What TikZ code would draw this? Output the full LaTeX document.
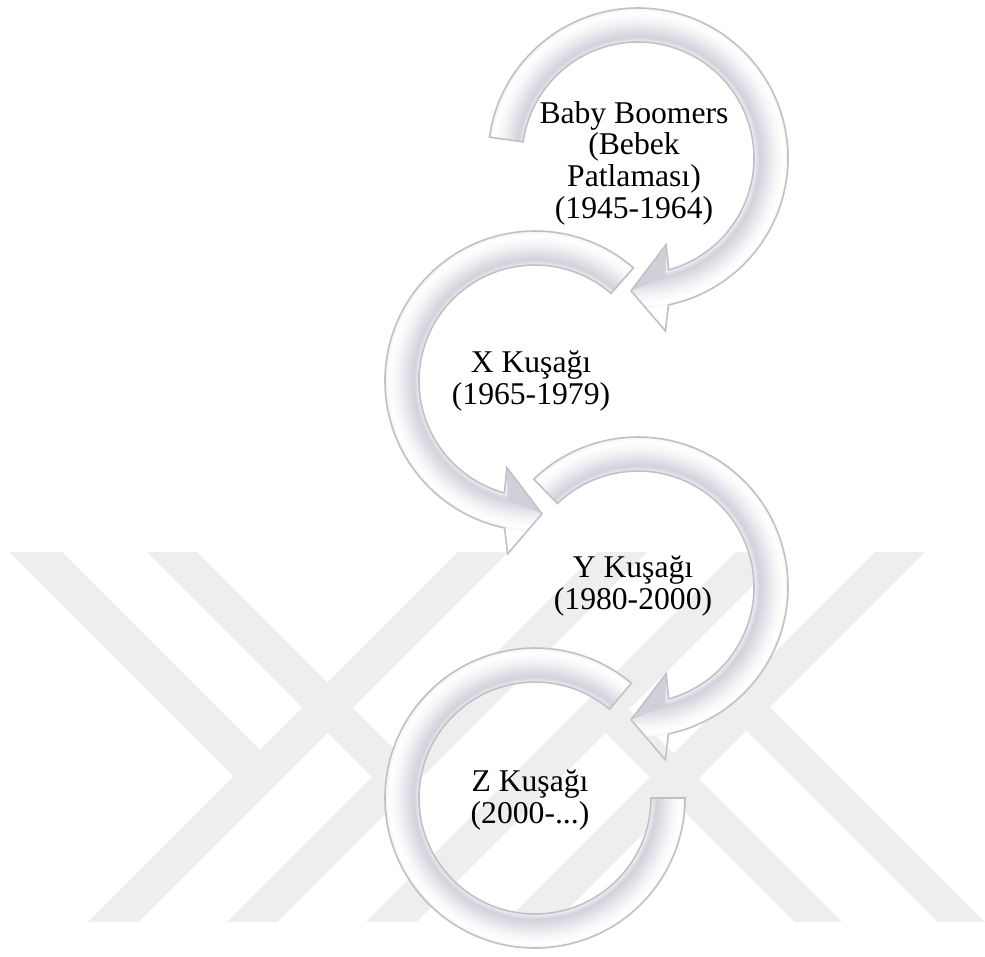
\documentclass[tikz,border=0pt]{standalone}
\usepackage{fontspec}
\setmainfont{Liberation Serif}

\definecolor{markgray}{RGB}{238,238,238}
\definecolor{ringline}{RGB}{192,192,198}
\definecolor{rcore}{RGB}{234,234,240}
\definecolor{rinner}{RGB}{238,238,243}
\definecolor{rband}{RGB}{210,210,219}
\definecolor{rmid}{RGB}{226,226,233}
\definecolor{rlight}{RGB}{246,246,248}
\definecolor{rrim}{RGB}{242,242,245}
\definecolor{rout}{RGB}{236,236,241}
\definecolor{facet}{RGB}{208,208,216}

% radial profile across the ring width (25bp = outer radius 150)
\pgfdeclareradialshading{ringshade}{\pgfpoint{0bp}{0bp}}{%
  color(0bp)=(rcore); color(15bp)=(rcore);
  color(19.3bp)=(rinner); color(20.2bp)=(rband);
  color(21.5bp)=(rmid); color(23bp)=(rlight);
  color(24.4bp)=(white); color(25bp)=(rrim);
  color(30bp)=(rout); color(50bp)=(rout)}

\tikzset{
  ringedge/.style={draw=ringline, line width=0.45pt},
  gentext/.style={align=center, inner sep=0pt,
    font=\fontsize{9pt}{9pt}\selectfont},
  markband/.style={fill=markgray},
}

% clockwise circular arrow: #1,#2 centre, #3 tail angle
\newcommand\cwring[3]{%
  \begin{scope}[shift={(#1,#2)}]
    \begin{scope}
      \clip (#3:150) arc[start angle=#3, end angle=-78.3, radius=150]
        -- (-81:175) -- (-93:133) -- (-72:91) -- (-74.7:116)
        arc[start angle=-74.7, end angle=#3, radius=116] -- cycle;
      \shade[shading=ringshade] (0,0) circle[radius=150];
    \end{scope}
    \fill[facet] (-72:91) -- (-93:133) -- (-77:122) -- cycle;
    \draw[ringedge] (#3:150) arc[start angle=#3, end angle=-78.3, radius=150]
      -- (-81:175) -- (-93:133) -- (-72:91) -- (-74.7:116)
      arc[start angle=-74.7, end angle=#3, radius=116] -- cycle;
  \end{scope}}

% counter-clockwise circular arrow: #1,#2 centre, #3 tail angle
\newcommand\ccwring[3]{%
  \begin{scope}[shift={(#1,#2)}]
    \begin{scope}
      \clip (#3:150) arc[start angle=#3, end angle=258.3, radius=150]
        -- (261:175) -- (273:133) -- (252:91) -- (254.7:116)
        arc[start angle=254.7, end angle=#3, radius=116] -- cycle;
      \shade[shading=ringshade] (0,0) circle[radius=150];
    \end{scope}
    \fill[facet] (252:91) -- (273:133) -- (257:122) -- cycle;
    \draw[ringedge] (#3:150) arc[start angle=#3, end angle=258.3, radius=150]
      -- (261:175) -- (273:133) -- (252:91) -- (254.7:116)
      arc[start angle=254.7, end angle=#3, radius=116] -- cycle;
  \end{scope}}

% open ring without a head, ending flat at 0 degrees
\newcommand\openring[3]{%
  \begin{scope}[shift={(#1,#2)}]
    \begin{scope}
      \clip (#3:150) arc[start angle=#3, end angle=360, radius=150]
        -- (0:116) arc[start angle=360, end angle=#3, radius=116] -- cycle;
      \shade[shading=ringshade] (0,0) circle[radius=150];
    \end{scope}
    \draw[ringedge] (#3:150) arc[start angle=#3, end angle=360, radius=150]
      -- (0:116) arc[start angle=360, end angle=#3, radius=116] -- cycle;
  \end{scope}}

\begin{document}
\begin{tikzpicture}[x=0.01cm, y=0.01cm]
  \useasboundingbox (0,0) rectangle (985,-956);
  \fill[white] (0,0) rectangle (985,-956);

  % background emblem: four long rising bands
  \fill[markband] (88,-922) -- (138,-922) -- (508,-552) -- (458,-552) -- cycle;
  \fill[markband] (227,-922) -- (277,-922) -- (647,-552) -- (597,-552) -- cycle;
  \fill[markband] (366,-922) -- (416,-922) -- (786,-552) -- (736,-552) -- cycle;
  \fill[markband] (505,-922) -- (555,-922) -- (925,-552) -- (875,-552) -- cycle;
  % falling arms joining them
  \fill[markband] (10,-552) -- (62,-552) -- (285,-775) -- (234,-776) -- cycle;
  \fill[markband] (147,-552) -- (197,-552) -- (422,-777) -- (372,-777) -- cycle;
  \fill[markband] (795,-922) -- (842,-922) -- (629,-709) -- (580.5,-707.5) -- cycle;
  \fill[markband] (938,-922) -- (985,-922) -- (770,-707) -- (721.5,-705.5) -- cycle;

  % circular arrows
  \cwring{638}{-158}{172}
  \ccwring{535}{-381}{49}
  \cwring{638}{-587}{134}
  \openring{535}{-798}{50}

  % labels
  \node[gentext] (t1) at (634,-163) {Baby Boomers\\(Bebek\\Patlaması)\\(1945-1964)};
  \node[gentext] (t2) at (531,-381) {X Kuşağı\\(1965-1979)};
  \node[gentext] (t3) at (633,-586) {Y Kuşağı\\(1980-2000)};
  \node[gentext] (t4) at (530,-800) {Z Kuşağı\\(2000-...)};
\end{tikzpicture}
\end{document}
